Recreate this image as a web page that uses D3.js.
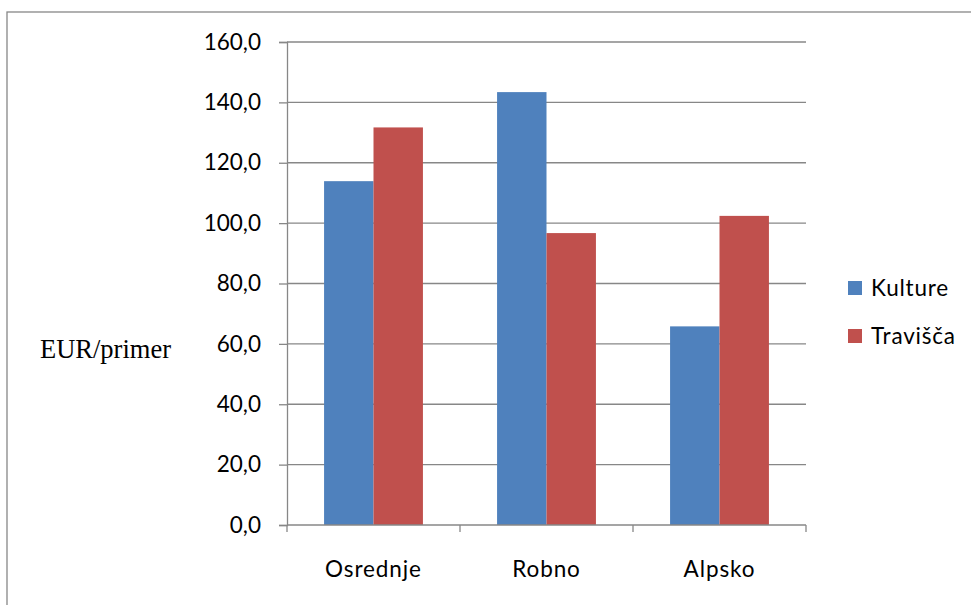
<!DOCTYPE html>
<html>
<head>
<meta charset="utf-8">
<script src="https://cdn.jsdelivr.net/npm/d3@7/dist/d3.min.js"></script>
<style>
  html, body { margin: 0; padding: 0; background: #fff; }
  svg { display: block; }
</style>
</head>
<body>
<svg id="chart" width="971" height="605"></svg>
<script>
// Data
const categories = ["Osrednje", "Robno", "Alpsko"];
const seriesNames = ["Kulture", "Travišča"];
const kulture = [113.9, 143.4, 65.8];
const travisca = [131.7, 96.7, 102.4];
const yTicks = [0, 20, 40, 60, 80, 100, 120, 140, 160];
const colors = ["#4F81BD", "#C0504D"];
const yTitle = "EUR/primer";

const svg = d3.select("#chart");
const font = "Lato, 'Noto Sans', sans-serif";
const gridColor = "#878787";

// Outer chart frame
svg.append("rect")
  .attr("x", 7).attr("y", 12)
  .attr("width", 980).attr("height", 610)
  .attr("fill", "none")
  .attr("stroke", gridColor).attr("stroke-width", 1.3);

const plot = { left: 287, right: 806, top: 42, bottom: 525 };

const y = d3.scaleLinear().domain([0, 160]).range([plot.bottom, plot.top]);
const x = d3.scaleBand().domain(categories).range([plot.left, plot.right]).padding(0);

// Bars: gap width 150% of bar width
const bw = x.bandwidth();
const barW = bw / 3.5;
const offset = bw * 0.75 / 3.5;
const xs = d3.scaleBand().domain(seriesNames).range([offset, offset + 2 * barW]).padding(0);

// Gridlines
svg.append("g").selectAll("line").data(yTicks.filter(d => d > 0)).join("line")
  .attr("x1", plot.left).attr("x2", plot.right)
  .attr("y1", d => y(d)).attr("y2", d => y(d))
  .attr("stroke", gridColor).attr("stroke-width", 1.3);

const rows = categories.map((c, i) => ({ cat: c, vals: [kulture[i], travisca[i]] }));

svg.append("g").selectAll("g").data(rows).join("g")
  .attr("transform", d => `translate(${x(d.cat)},0)`)
  .selectAll("rect").data(d => d.vals.map((v, j) => ({ name: seriesNames[j], v, j })))
  .join("rect")
  .attr("x", d => xs(d.name))
  .attr("width", xs.bandwidth())
  .attr("y", d => y(d.v))
  .attr("height", d => y(0) - y(d.v))
  .attr("fill", d => colors[d.j]);

// Y axis
const yAxis = d3.axisLeft(y).tickValues(yTicks).tickSize(8).tickPadding(18)
  .tickFormat(d => d3.format(".1f")(d).replace(".", ","));
const gy = svg.append("g").attr("transform", `translate(${plot.left},0)`).call(yAxis);
gy.select(".domain").attr("stroke", gridColor).attr("stroke-width", 1.3);
gy.selectAll(".tick line").attr("stroke", gridColor).attr("stroke-width", 1.3);
gy.selectAll(".tick text").attr("font-family", font).attr("font-size", 22.5).attr("fill", "#000");

// X axis
const xAxis = d3.axisBottom(x).tickSize(0).tickPadding(0).tickFormat(() => "");
const gx = svg.append("g").attr("transform", `translate(0,${plot.bottom})`).call(xAxis);
gx.select(".domain").remove();
gx.append("line").attr("x1", plot.left).attr("x2", plot.right)
  .attr("stroke", gridColor).attr("stroke-width", 1.3);
const bounds = [plot.left, ...categories.map(c => x(c) + bw)];
gx.selectAll(".bound").data(bounds).join("line").attr("class", "bound")
  .attr("x1", d => d).attr("x2", d => d).attr("y1", 0).attr("y2", 7)
  .attr("stroke", gridColor).attr("stroke-width", 1.3);
gx.selectAll(".cat").data(categories).join("text").attr("class", "cat")
  .attr("x", d => x(d) + bw / 2).attr("y", 52)
  .attr("text-anchor", "middle")
  .attr("font-family", font).attr("font-size", 22.5).attr("letter-spacing", "0.9px")
  .attr("fill", "#000")
  .text(d => d);

// Y axis title
svg.append("text").attr("x", 40).attr("y", 358)
  .attr("font-family", "'Liberation Serif', 'Times New Roman', serif")
  .attr("font-size", 26.5).attr("fill", "#000")
  .text(yTitle);

// Legend
const legend = svg.append("g");
seriesNames.forEach((n, i) => {
  const ly = 281 + i * 48;
  legend.append("rect").attr("x", 848).attr("y", ly).attr("width", 14).attr("height", 14)
    .attr("fill", colors[i]);
  legend.append("text").attr("x", 871).attr("y", ly + 15)
    .attr("font-family", font).attr("font-size", 22.5).attr("letter-spacing", "0.8px")
    .attr("fill", "#000")
    .text(n);
});
</script>
</body>
</html>
